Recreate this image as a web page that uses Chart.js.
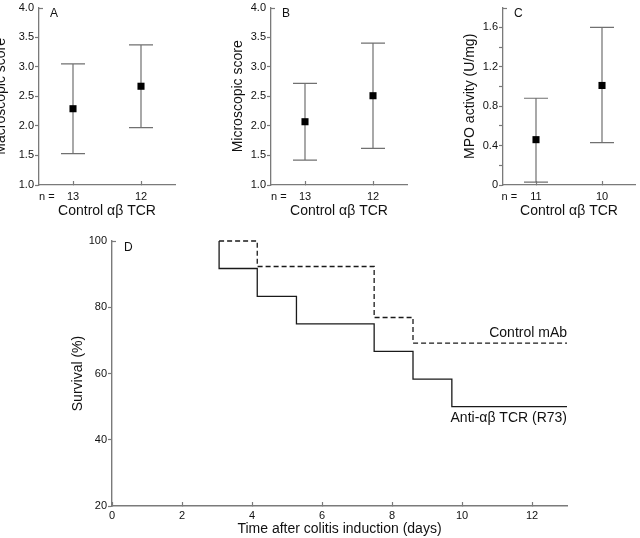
<!DOCTYPE html>
<html>
<head>
<meta charset="utf-8">
<script src="https://cdn.jsdelivr.net/npm/chart.js@4.4.1/dist/chart.umd.min.js"></script>
<style>
html, body { margin: 0; padding: 0; background: #fff; overflow: hidden; width: 640px; height: 538px; }
body { position: relative; }
canvas { position: absolute; }
</style>
</head>
<body>
<canvas id="ca" width="200" height="220" style="left:-10px;top:0px"></canvas>
<canvas id="cb" width="200" height="220" style="left:222px;top:0px"></canvas>
<canvas id="cc" width="185" height="220" style="left:455px;top:0px"></canvas>
<canvas id="cd" width="580" height="318" style="left:60px;top:225px"></canvas>
<script>
// ---------- data ----------
const groupTitle = 'Control αβ TCR';
const nLabel = 'n =';

const nA = ['13', '12'];
const meanA = [2.29, 2.67];
const lowA = [1.53, 1.97];
const highA = [3.05, 3.37];

const nB = ['13', '12'];
const meanB = [2.07, 2.51];
const lowB = [1.42, 1.62];
const highB = [2.72, 3.40];

const nC = ['11', '10'];
const meanC = [0.46, 1.01];
const lowC = [0.03, 0.43];
const highC = [0.88, 1.60];

const ctrlLabel = 'Control mAb';
const ctrlDays = [3.06, 4.15, 7.49, 8.6, 13];
const ctrlSurv = [100, 92.3, 76.9, 69.2, 69.2];

const antiLabel = 'Anti-αβ TCR (R73)';
const antiDays = [3.06, 3.06, 4.15, 5.27, 7.49, 8.6, 9.71, 13];
const antiSurv = [100, 91.7, 83.3, 75, 66.7, 58.3, 50, 50];

const survTicksX = [0, 2, 4, 6, 8, 10, 12];
const survTicksY = [20, 40, 60, 80, 100];

// ---------- style ----------
const FONT = "'Liberation Sans', Arial, Helvetica, sans-serif";
const AX = '#7a7a7a';
const TXT = '#111';

const panelDeco = {
  id: 'panelDeco',
  beforeDatasetsDraw(chart, args, o) {
    if (!o.low) return;
    const meta = chart.getDatasetMeta(0);
    const ys = chart.scales.y, ctx = chart.ctx;
    ctx.save();
    ctx.strokeStyle = o.barColor;
    ctx.lineWidth = 1.2;
    meta.data.forEach((pt, i) => {
      const yl = ys.getPixelForValue(o.low[i]);
      const yh = ys.getPixelForValue(o.high[i]);
      ctx.beginPath();
      ctx.moveTo(pt.x, yl); ctx.lineTo(pt.x, yh);
      ctx.moveTo(pt.x - o.cap, yl); ctx.lineTo(pt.x + o.cap, yl);
      ctx.moveTo(pt.x - o.cap, yh); ctx.lineTo(pt.x + o.cap, yh);
      ctx.stroke();
    });
    ctx.restore();
  },
  afterDraw(chart, args, o) {
    const ctx = chart.ctx, ca = chart.chartArea;
    ctx.save();
    // inward cap at top of y axis
    ctx.strokeStyle = AX;
    ctx.lineWidth = 1.2;
    ctx.beginPath();
    ctx.moveTo(ca.left, Math.round(ca.top) + 0.5);
    ctx.lineTo(ca.left + 4, Math.round(ca.top) + 0.5);
    ctx.stroke();
    ctx.fillStyle = TXT;
    if (o.letter) {
      ctx.font = `12px ${FONT}`;
      ctx.textAlign = 'left';
      ctx.textBaseline = 'alphabetic';
      ctx.fillText(o.letter, ca.left + o.letterDx, ca.top + o.letterDy);
    }
    if (o.nText) {
      ctx.font = `11px ${FONT}`;
      ctx.textAlign = 'left';
      ctx.textBaseline = 'middle';
      ctx.fillText(o.nText, ca.left + o.nDx, ca.bottom + o.nDy);
    }
    chart.data.datasets.forEach((ds, i) => {
      if (!ds.endLabel) return;
      const meta = chart.getDatasetMeta(i);
      const last = meta.data[meta.data.length - 1];
      ctx.font = `14px ${FONT}`;
      ctx.textAlign = 'right';
      ctx.textBaseline = 'middle';
      ctx.fillText(ds.endLabel, last.x, last.y + ds.endLabelDy);
    });
    ctx.restore();
  }
};
Chart.register(panelDeco);

function hideTopTick(max) {
  return c => (c.tick && Math.abs(c.tick.value - max) < 1e-9) ? 'rgba(0,0,0,0)' : AX;
}

function smallChart(id, cats, mean, low, high, yMin, yMax, yStep, yFmt, yTitle, letter, lay) {
  return new Chart(document.getElementById(id), {
    type: 'line',
    data: {
      labels: cats,
      datasets: [{
        data: mean, showLine: false, pointStyle: 'rect',
        pointRadius: 5, pointHoverRadius: 5,
        pointBackgroundColor: '#000', pointBorderWidth: 0, clip: false
      }]
    },
    options: {
      responsive: false, animation: false, events: [],
      layout: { padding: { left: 0, top: lay.top, right: lay.right, bottom: 0 } },
      plugins: {
        legend: { display: false }, tooltip: { enabled: false },
        panelDeco: {
          low, high, cap: 12, barColor: '#707070',
          letter, letterDx: 11, letterDy: 9.8,
          nText: nLabel, nDx: lay.nDx, nDy: 11.7
        }
      },
      scales: {
        x: {
          type: 'category', offset: true,
          grid: { display: true, drawOnChartArea: false, drawTicks: true, tickLength: -4, tickColor: AX, tickWidth: 1.2 },
          border: { display: true, color: AX, width: 1.3 },
          ticks: { color: TXT, font: { family: FONT, size: 11 }, padding: 9.1, maxRotation: 0 },
          title: { display: true, text: groupTitle, color: TXT, font: { family: FONT, size: 14 }, padding: { top: 0, bottom: 0 } },
          afterFit: s => { s.height = lay.xh; }
        },
        y: {
          min: yMin, max: yMax,
          grid: { display: true, drawOnChartArea: false, drawTicks: true, tickLength: 4, tickColor: hideTopTick(yMax), tickWidth: 1.2 },
          border: { display: true, color: AX, width: 1.3 },
          ticks: { stepSize: yStep, callback: yFmt, color: TXT, font: { family: FONT, size: 11 }, padding: 1 },
          title: { display: true, text: yTitle, color: TXT, font: { family: FONT, size: 14 }, padding: { top: lay.tp, bottom: 0 } },
          afterFit: s => { s.width = lay.yw; }
        }
      }
    }
  });
}

const fmt1 = v => v.toFixed(1);
const fmtC = v => {
  const k = Math.round(v * 10);
  if (k % 4 !== 0 || k > 16) return '';
  return k === 0 ? '0' : (k / 10).toFixed(1);
};

smallChart('ca', nA, meanA, lowA, highA, 1, 4, 0.5, fmt1, 'Macroscopic score', 'A',
  { top: 4, right: 15, xh: 35, yw: 49, tp: 2.6, nDx: 0 });
smallChart('cb', nB, meanB, lowB, highB, 1, 4, 0.5, fmt1, 'Microscopic score', 'B',
  { top: 4, right: 15, xh: 35, yw: 49, tp: 7.4, nDx: 0 });
smallChart('cc', nC, meanC, lowC, highC, 0, 1.8, 0.2, fmtC, 'MPO activity (U/mg)', 'C',
  { top: 4, right: 1, xh: 35, yw: 48, tp: 6.7, nDx: -1.5 });

// ---------- survival panel ----------
new Chart(document.getElementById('cd'), {
  type: 'line',
  data: {
    datasets: [
      {
        data: ctrlDays.map((d, i) => ({ x: d, y: ctrlSurv[i] })),
        stepped: 'before', borderColor: '#1a1a1a', borderWidth: 1.3, borderDash: [5, 3],
        pointRadius: 0, fill: false, clip: false,
        endLabel: ctrlLabel, endLabelDy: -10
      },
      {
        data: antiDays.map((d, i) => ({ x: d, y: antiSurv[i] })),
        stepped: 'before', borderColor: '#1a1a1a', borderWidth: 1.3,
        pointRadius: 0, fill: false, clip: false,
        endLabel: antiLabel, endLabelDy: 11.5
      }
    ]
  },
  options: {
    responsive: false, animation: false, events: [],
    layout: { padding: { left: 0, top: 16, right: 73, bottom: 0 } },
    plugins: {
      legend: { display: false }, tooltip: { enabled: false },
      panelDeco: { letter: 'D', letterDx: 12, letterDy: 10.3 }
    },
    scales: {
      x: {
        type: 'linear', min: 0, max: 13,
        afterBuildTicks: s => { s.ticks = survTicksX.map(v => ({ value: v })); },
        grid: { display: true, drawOnChartArea: false, drawTicks: true, tickLength: -4, tickColor: AX, tickWidth: 1.2 },
        border: { display: true, color: AX, width: 1.4 },
        ticks: { color: TXT, font: { family: FONT, size: 11 }, padding: 7.7, maxRotation: 0 },
        title: { display: true, text: 'Time after colitis induction (days)', color: TXT, font: { family: FONT, size: 14 }, padding: { top: 0, bottom: 5 } },
        afterFit: s => { s.height = 37; }
      },
      y: {
        min: 20, max: 100,
        afterBuildTicks: s => { s.ticks = survTicksY.map(v => ({ value: v })); },
        grid: { display: true, drawOnChartArea: false, drawTicks: true, tickLength: 4, tickColor: hideTopTick(100), tickWidth: 1.2 },
        border: { display: true, color: AX, width: 1.4 },
        ticks: { color: TXT, font: { family: FONT, size: 11 }, padding: 1 },
        title: { display: true, text: 'Survival (%)', color: TXT, font: { family: FONT, size: 14 }, padding: { top: 9.4, bottom: 0 } },
        afterFit: s => { s.width = 52; }
      }
    }
  }
});
</script>
</body>
</html>
